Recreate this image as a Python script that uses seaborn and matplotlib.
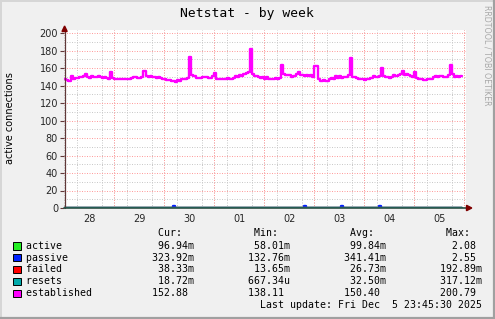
import matplotlib
matplotlib.use("Agg")
import matplotlib.pyplot as plt
import seaborn as sns
import numpy as np
import pandas as pd
from matplotlib.transforms import Affine2D
from matplotlib.patches import Polygon, Rectangle
from matplotlib.ticker import MultipleLocator, FixedLocator
from matplotlib.lines import Line2D

# ---------------- data ----------------
day_labels = ["28", "29", "30", "01", "02", "03", "04", "05"]

# established connections, hourly samples starting Nov 28 00:00
established = [
    148, 146, 145, 151, 148, 149, 149, 150, 150, 151, 153, 150,
    149, 151, 150, 150, 151, 150, 149, 150, 149, 148, 155, 149,
    148, 147, 148, 147, 147, 147, 147, 148, 149, 150, 150, 149,
    149, 150, 156.6, 151, 150, 151, 150, 150, 149, 150, 149, 148,
    147, 146, 146, 145, 145, 144, 146, 145, 148, 148, 148, 149,
    173, 152, 151, 149, 149, 149, 150, 150, 150, 149, 149, 151,
    154, 148, 147, 148, 147, 148, 149, 147, 148, 149, 151, 150,
    152, 151, 153, 154, 156, 182, 153, 151, 151, 150, 149, 150,
    148, 150, 147, 147, 147, 149, 148, 149, 164, 153, 152, 152,
    152, 150, 151, 153, 155, 152, 152, 151, 152, 151, 152, 150,
    162, 162, 147, 145, 146, 145, 145, 148, 149, 148, 151, 149,
    151, 149, 150, 150, 152, 171, 150, 150, 149, 148, 148, 147,
    146, 148, 147, 149, 151, 150, 150, 151, 160, 151, 150, 150,
    149, 150, 152, 151, 152, 153, 157, 152, 153, 152, 151, 150,
    156, 149, 147, 147, 146, 146, 147, 147, 148, 150, 151, 150,
    151, 151, 150, 150, 152, 163, 153, 150, 151, 150, 151, 151,
]
est_hours = list(range(len(established)))

active_hours = [0, 40, 80, 120, 160, 191]
active = [0.10, 0.09, 0.11, 0.10, 0.10, 0.097]

passive_hours = [0, 52, 53, 115, 116, 133, 134, 151, 152, 191]
passive = [0.30, 2.1, 0.30, 2.0, 0.35, 2.2, 0.30, 2.0, 0.32, 0.32]

failed_hours = [0, 96, 191]
failed = [0.03, 0.025, 0.038]

resets_hours = [0, 96, 191]
resets = [0.03, 0.03, 0.019]

legend_names = ["active", "passive", "failed", "resets", "established"]
legend_colors = ["#22EE22", "#0022FF", "#FF0000", "#00AAAA", "#FF00FF"]
cur_vals = ["96.94m", "323.92m", "38.33m", "18.72m", "152.88 "]
min_vals = ["58.01m", "132.76m", "13.65m", "667.34u", "138.11 "]
avg_vals = ["99.84m", "341.41m", "26.73m", "32.50m", "150.40 "]
max_vals = ["2.08 ", "2.55 ", "192.89m", "317.12m", "200.79 "]

title = "Netstat - by week"
ylabel = "active connections"
last_update = "Last update: Fri Dec  5 23:45:30 2025"
side_text = "RRDTOOL / TOBI OETIKER"

# ---------------- figure ----------------
sns.set_style("white")
plt.rcParams["font.family"] = ["DejaVu Sans"]

W, H = 495, 319
fig = plt.figure(figsize=(W / 100, H / 100), dpi=100, facecolor="#F0F0F0")
px = Affine2D().scale(1 / W, -1 / H).translate(0, 1) + fig.transFigure

ax = fig.add_axes([64.3 / W, (H - 208) / H, 402 / W, 178.5 / H])
ax.set_facecolor("white")
for s in ax.spines.values():
    s.set_visible(False)

series = [
    (active_hours, active, legend_colors[0]),
    (passive_hours, passive, legend_colors[1]),
    (failed_hours, failed, legend_colors[2]),
    (resets_hours, resets, legend_colors[3]),
    (est_hours, established, legend_colors[4]),
]
for hrs, vals, col in series:
    df = pd.DataFrame({"h": hrs, "v": vals})
    sns.lineplot(data=df, x="h", y="v", ax=ax, color=col, linewidth=1.7,
                 drawstyle="steps-post", estimator=None, zorder=3)

ax.set_xlim(0, 193)
ax.set_ylim(0, 204)
ax.set_xlabel("")
ax.set_ylabel("")

# grid
ax.set_axisbelow(True)
ax.yaxis.set_major_locator(FixedLocator(list(range(0, 201, 20))))
ax.yaxis.set_minor_locator(FixedLocator(list(range(10, 201, 20))))
ax.xaxis.set_major_locator(FixedLocator([12 + 24 * i for i in range(len(day_labels))]))
ax.xaxis.set_minor_locator(MultipleLocator(6))
ax.set_xticklabels(day_labels)
ax.yaxis.grid(True, which="major", color="#FF9E9E", linewidth=0.72, dashes=(1, 1.5))
ax.yaxis.grid(True, which="minor", color="#CACACA", linewidth=0.72, dashes=(1, 1.5))
ax.xaxis.grid(True, which="minor", color="#CACACA", linewidth=0.72, dashes=(1, 1.5))
ax.xaxis.grid(False, which="major")
for d in range(24, 193, 24):
    ax.axvline(d, color="#FF9E9E", linewidth=0.72, dashes=(1, 1.5), zorder=1)

ax.tick_params(axis="y", which="major", length=3, width=0.8, color="#603838",
               labelsize=7, pad=1.5, left=True, direction="out")
ax.tick_params(axis="y", which="minor", length=0)
ax.tick_params(axis="x", which="major", length=0, labelsize=7, pad=4.5)
ax.tick_params(axis="x", which="minor", length=0)

# axes lines and arrows
fig.add_artist(Line2D([64.6, 64.6], [208, 31], transform=px, color="#603838", lw=0.9, zorder=5))
fig.add_artist(Line2D([64.3, 467], [208, 208], transform=px, color="#2C4D43", lw=1.2, zorder=5))
fig.add_artist(Polygon([(62.0, 31.5), (67.2, 31.5), (64.6, 26.0)], closed=True,
                       transform=px, color="#7F0000", zorder=6))
fig.add_artist(Polygon([(466.5, 205.3), (466.5, 210.7), (471.8, 208)], closed=True,
                       transform=px, color="#7F0000", zorder=6))

# title, labels
fig.text(246.5, 13.5, title, transform=px, ha="center", va="center",
         family="DejaVu Sans Mono", fontsize=9.4, color="black")
fig.text(10.5, 118, ylabel, transform=px, ha="center", va="center",
         rotation=90, fontsize=7, color="black")
fig.text(486.5, 5, side_text, transform=px, ha="center", va="top",
         rotation=-90, fontsize=5.7, color="#A8A8A8")

# legend
mono = dict(family="DejaVu Sans Mono", fontsize=7.1, color="black", va="center", ha="left")
x0 = 26.2
header = " " * 22 + "Cur:" + " " * 12 + "Min:" + " " * 12 + "Avg:" + " " * 12 + "Max:"
fig.text(x0, 233.5, header, transform=px, **mono)
row_y = [245.8, 257.6, 269.4, 281.4, 293.4]
for i, name in enumerate(legend_names):
    line = f"{name:<21}{cur_vals[i]:>7}{min_vals[i]:>16}{avg_vals[i]:>16}{max_vals[i]:>16}"
    fig.text(x0, row_y[i], line, transform=px, **mono)
    fig.add_artist(Rectangle((13.3, row_y[i] - 3.6), 7.3, 7.3, transform=px,
                             facecolor=legend_colors[i], edgecolor="black", lw=0.7))
fig.text(x0, 305.2, " " * 39 + last_update, transform=px, **mono)

# frame
fig.add_artist(Line2D([0.5, 0.5], [0, H], transform=px, color="#D6D6D6", lw=1.4))
fig.add_artist(Line2D([0, W], [0.5, 0.5], transform=px, color="#D6D6D6", lw=1.4))
fig.add_artist(Line2D([W - 1, W - 1], [0, H], transform=px, color="#A0A0A0", lw=1.6))
fig.add_artist(Line2D([0, W], [H - 1, H - 1], transform=px, color="#A0A0A0", lw=1.6))

fig.savefig("out.png", dpi=100, facecolor=fig.get_facecolor())
